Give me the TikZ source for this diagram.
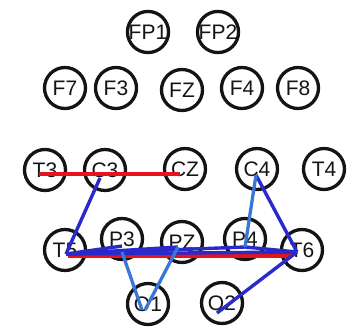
\documentclass[tikz,border=0pt]{standalone}
\usepackage{fontspec}
\setmainfont{Liberation Sans}
\usetikzlibrary{calc}
\definecolor{ringcol}{HTML}{141414}
\definecolor{redline}{HTML}{E3141C}
\definecolor{darkblue}{HTML}{2A2ACC}
\definecolor{lightblue}{HTML}{3A76D6}
\tikzset{
  electrode/.style={circle,draw=ringcol,line width=3.3pt,minimum size=41pt,inner sep=0pt,
    font=\fontsize{21}{21}\selectfont,text=ringcol},
  redconn/.style={draw=redline,line width=3.6pt},
  darkconn/.style={draw=darkblue,line width=3.4pt},
  lightconn/.style={draw=lightblue,line width=3.3pt},
}
\begin{document}
\begin{tikzpicture}[x=1pt,y=-1pt]
\useasboundingbox (0,0) rectangle (347,329);
\fill[white] (0,0) rectangle (347,329);
% electrodes
\node[electrode] (FP1) at (148,32) {FP1};
\node[electrode] (FP2) at (218,32) {FP2};
\node[electrode] (F7) at (65,88) {F7};
\node[electrode] (F3) at (116,88) {F3};
\node[electrode] (FZ) at (182,90) {FZ};
\node[electrode] (F4) at (242,88) {F4};
\node[electrode] (F8) at (298,88) {F8};
\node[electrode] (T3) at (45,170) {T3};
\node[electrode] (C3) at (105,170) {C3};
\node[electrode] (CZ) at (185,169) {CZ};
\node[electrode] (C4) at (257,169) {C4};
\node[electrode] (T4) at (324,169) {T4};
\node[electrode] (T5) at (65,250) {T5};
\node[electrode] (P3) at (122,239) {P3};
\node[electrode] (PZ) at (182,242) {PZ};
\node[electrode] (P4) at (245,239) {P4};
\node[electrode] (T6) at (302,250) {T6};
\node[electrode] (O1) at (148,304) {O1};
\node[electrode] (O2) at (222,303) {O2};
% connection points
\coordinate (t3p) at ($(T3)+(-6,4)$);
\coordinate (czp) at ($(CZ)+(-5,5)$);
\coordinate (c3p) at ($(C3)+(-5,8)$);
\coordinate (t5p) at ($(T5)+(1,4)$);
\coordinate (t5r) at ($(T5)+(3,6)$);
\coordinate (t6p) at ($(T6)+(-5,2)$);
\coordinate (t6r) at ($(T6)+(-10,6)$);
\coordinate (p3p) at ($(P3)+(0,7)$);
\coordinate (p3o) at ($(P3)+(0,13)$);
\coordinate (pzp) at ($(PZ)+(-4,5)$);
\coordinate (p4p) at ($(P4)+(0,8)$);
\coordinate (c4p) at ($(C4)+(-1,6)$);
\coordinate (o1p) at ($(O1)+(-6,6)$);
\coordinate (o1q) at ($(O1)+(-3,6)$);
\coordinate (o2p) at ($(O2)+(-5,10)$);
% red connectors
\draw[redconn] (t3p) -- (czp);
\draw[redconn] (t5r) -- (t6r);
% blue connectors
\draw[darkconn] (c3p) -- (t5p);
\draw[darkconn] (t5p) -- (p3p);
\draw[darkconn] (t5p) -- (pzp);
\draw[darkconn] (t5p) -- (p4p);
\draw[darkconn] (t5p) -- (t6p);
\draw[darkconn] (p4p) -- (t6p);
\draw[darkconn] (c4p) -- (t6p);
\draw[darkconn] (t6p) -- (o2p);
\draw[lightconn] (c4p) -- (p4p);
\draw[lightconn] (p3o) -- (o1p);
\draw[lightconn] (pzp) -- (o1q);
\end{tikzpicture}
\end{document}
